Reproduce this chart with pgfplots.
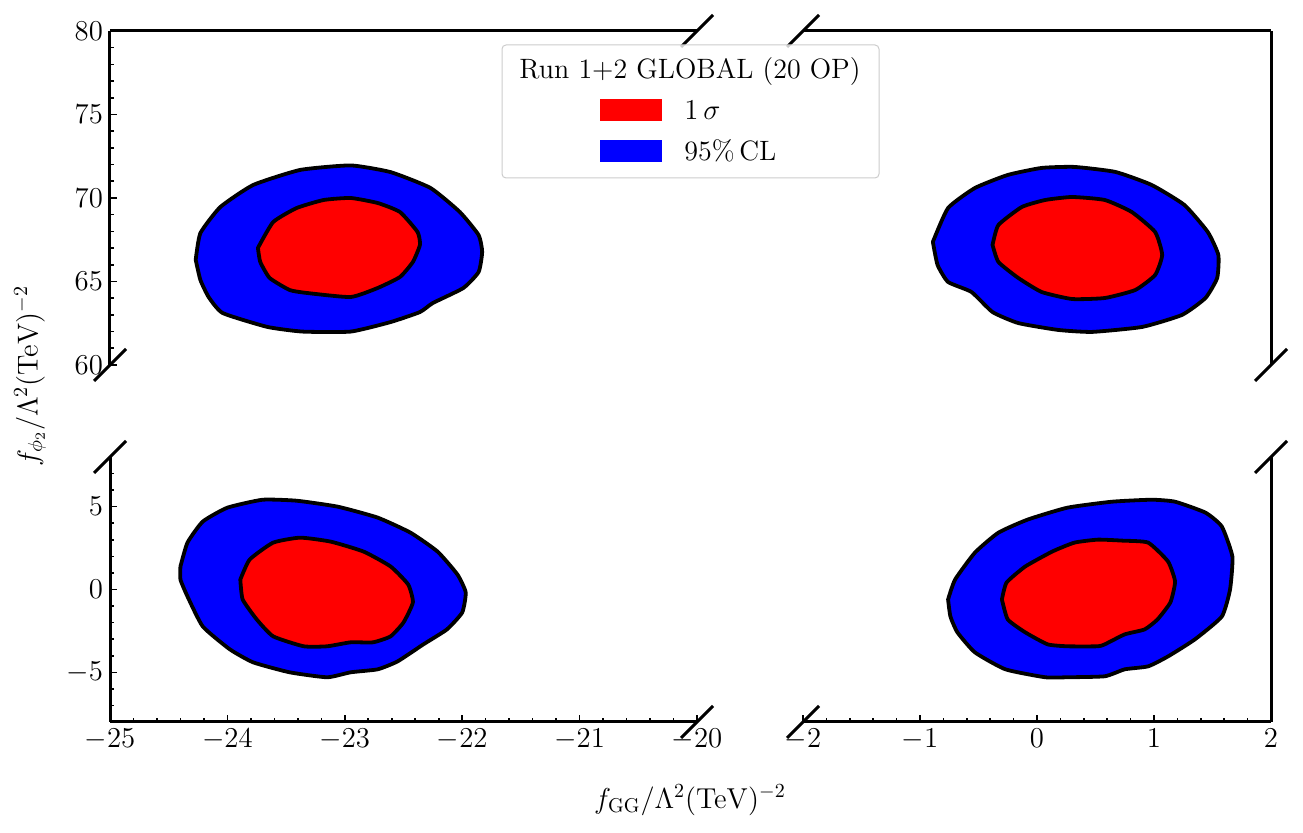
\documentclass[border=0pt]{standalone}
\usepackage{pgfplots}
\pgfplotsset{compat=1.18}
\pgfplotsset{
  brk/.style={scale only axis, anchor=south west, tick align=inside,
    axis line style={-, line width=1.5pt, black},
    major tick length=3.5pt, minor tick length=2pt,
    tick style={black, line width=0.8pt},
    clip=false},
  cblue/.style={fill=blue, draw=black, line width=1.9pt, line join=round, smooth, tension=0.3},
  cred/.style={fill=red, draw=black, line width=1.9pt, line join=round, smooth, tension=0.3},
}
\begin{document}
\begin{tikzpicture}[font=\fontsize{14}{17}\selectfont]
\useasboundingbox (0pt,0pt) rectangle (651.5pt,416.5pt);
% top left
\begin{axis}[brk, at={(55pt,234pt)}, width=293.5pt, height=167pt,
  xmin=-25, xmax=-20, ymin=60, ymax=80,
  axis x line*=top, axis y line*=left,
  xtick=\empty, ytick={60,65,70,75,80}, minor ytick={61,...,79}]
\addplot[cblue] coordinates {(-24.27,66.3) (-24.23,67.90) (-24.06,69.46) (-23.78,70.78) (-23.38,71.68) (-22.95,71.95) (-22.61,71.55) (-22.27,70.60) (-22.02,69.16) (-21.86,67.78) (-21.83,66.77) (-21.86,65.57) (-21.99,64.61) (-22.25,63.71) (-22.36,63.17) (-22.61,62.57) (-22.95,62.0) (-23.36,62.0) (-23.66,62.28) (-24.04,63.11) (-24.16,64.07) (-24.23,65.09) (-24.27,66.3)} -- cycle;
\addplot[cred] coordinates {(-23.74,67.01) (-23.61,68.56) (-23.41,69.40) (-23.18,69.88) (-22.95,70.0) (-22.72,69.70) (-22.53,69.16) (-22.38,67.96) (-22.36,67.19) (-22.42,66.17) (-22.53,65.27) (-22.72,64.61) (-22.95,64.07) (-23.32,64.31) (-23.47,64.49) (-23.64,65.21) (-23.72,66.17) (-23.74,67.01)} -- cycle;
\end{axis}
% top right
\begin{axis}[brk, at={(401.5pt,234pt)}, width=234pt, height=167pt,
  xmin=-2, xmax=2, ymin=60, ymax=80,
  axis x line*=top, axis y line*=right,
  xtick=\empty, ytick=\empty]
\addplot[cblue] coordinates {(-0.89,67.37) (-0.76,69.40) (-0.53,70.60) (-0.25,71.38) (0.04,71.80) (0.32,71.86) (0.67,71.56) (0.98,70.78) (1.26,69.58) (1.46,67.96) (1.55,66.59) (1.54,65.21) (1.44,64.01) (1.24,63.0) (0.90,62.28) (0.47,61.98) (0.18,62.10) (-0.16,62.51) (-0.38,63.17) (-0.56,64.37) (-0.76,64.97) (-0.85,65.99) (-0.89,67.37)} -- cycle;
\addplot[cred] coordinates {(-0.38,67.19) (-0.33,68.38) (-0.13,69.46) (0.07,69.88) (0.30,70.06) (0.58,69.88) (0.81,69.16) (1.01,67.96) (1.07,66.59) (1.01,65.39) (0.84,64.49) (0.58,64.01) (0.30,63.95) (0.04,64.37) (-0.16,65.21) (-0.33,66.17) (-0.38,67.19)} -- cycle;
\end{axis}
% bottom left
\begin{axis}[brk, at={(55pt,55.5pt)}, width=293.5pt, height=132.5pt,
  xmin=-25, xmax=-20, ymin=-8, ymax=8,
  axis x line*=bottom, axis y line*=left,
  xtick={-25,-24,...,-20}, minor xtick={-25,-24.8,...,-20},
  ytick={-5,0,5}, minor ytick={-7,...,7}]
\addplot[cblue] coordinates {(-24.40,1.39) (-24.34,2.83) (-24.21,4.10) (-24.00,4.94) (-23.70,5.42) (-23.41,5.36) (-23.06,5.0) (-22.72,4.34) (-22.44,3.43) (-22.21,2.29) (-22.04,0.90) (-21.97,-0.18) (-22.0,-1.39) (-22.13,-2.41) (-22.33,-3.31) (-22.55,-4.34) (-22.72,-4.82) (-22.95,-5.0) (-23.15,-5.30) (-23.47,-5.0) (-23.78,-4.40) (-23.98,-3.61) (-24.21,-2.23) (-24.34,-0.42) (-24.40,0.60) (-24.40,1.39)} -- cycle;
\addplot[cred] coordinates {(-23.89,0.60) (-23.81,1.81) (-23.61,2.83) (-23.38,3.13) (-23.12,2.89) (-22.84,2.29) (-22.61,1.39) (-22.46,0.30) (-22.42,-0.78) (-22.50,-1.99) (-22.61,-2.83) (-22.76,-3.19) (-22.95,-3.19) (-23.15,-3.43) (-23.35,-3.43) (-23.61,-2.83) (-23.75,-1.81) (-23.87,-0.60) (-23.89,0.60)} -- cycle;
\end{axis}
% bottom right
\begin{axis}[brk, at={(401.5pt,55.5pt)}, width=234pt, height=132.5pt,
  xmin=-2, xmax=2, ymin=-8, ymax=8,
  axis x line*=bottom, axis y line*=right,
  xtick={-2,-1,...,2}, minor xtick={-2,-1.8,...,2},
  ytick=\empty]
\addplot[cblue] coordinates {(-0.76,-0.60) (-0.70,0.60) (-0.53,2.23) (-0.33,3.43) (-0.08,4.22) (0.26,4.94) (0.64,5.30) (0.98,5.42) (1.18,5.30) (1.44,4.64) (1.58,3.80) (1.67,1.99) (1.65,0.0) (1.58,-1.63) (1.35,-3.01) (1.12,-4.04) (0.95,-4.64) (0.75,-4.82) (0.58,-5.24) (0.26,-5.30) (0.07,-5.30) (-0.27,-4.82) (-0.53,-3.80) (-0.68,-2.59) (-0.74,-1.63) (-0.76,-0.60)} -- cycle;
\addplot[cred] coordinates {(-0.30,-0.60) (-0.26,0.42) (-0.10,1.39) (0.13,2.29) (0.32,2.83) (0.52,3.01) (0.73,2.95) (0.95,2.83) (1.12,1.69) (1.18,0.48) (1.14,-0.78) (1.03,-1.81) (0.92,-2.41) (0.75,-2.71) (0.58,-3.31) (0.52,-3.43) (0.26,-3.43) (0.09,-3.31) (-0.10,-2.59) (-0.25,-1.81) (-0.30,-0.60)} -- cycle;
\end{axis}
% break marks
\foreach \cx/\cy in {55/234, 348.5/401, 401.5/401, 635.5/234, 55/188, 348.5/55.5, 401.5/55.5, 635.5/188}
  \draw[line width=1.5pt] (\cx pt-8pt,\cy pt-8pt) -- (\cx pt+8pt,\cy pt+8pt);
% axis labels
\node at (345pt,16.5pt) {$f_{\mathrm{GG}}/\Lambda^2(\mathrm{TeV})^{-2}$};
\node[rotate=90] at (15pt,228.5pt) {$f_{\phi_2}/\Lambda^2(\mathrm{TeV})^{-2}$};
% legend
\draw[rounded corners=2pt, draw=black!20, fill=white, fill opacity=0.8, line width=0.5pt] (251pt,327.5pt) rectangle (439.5pt,394pt);
\node at (345pt,380.5pt) {Run 1+2 GLOBAL (20 OP)};
\fill[red] (300pt,356pt) rectangle (331pt,367pt);
\fill[blue] (300pt,335.5pt) rectangle (331pt,346.5pt);
\node[anchor=west, inner sep=0pt] at (342pt,361.5pt) {$1\,\sigma$};
\node[anchor=west, inner sep=0pt] at (342pt,341pt) {95\%\,CL};
\end{tikzpicture}
\end{document}
